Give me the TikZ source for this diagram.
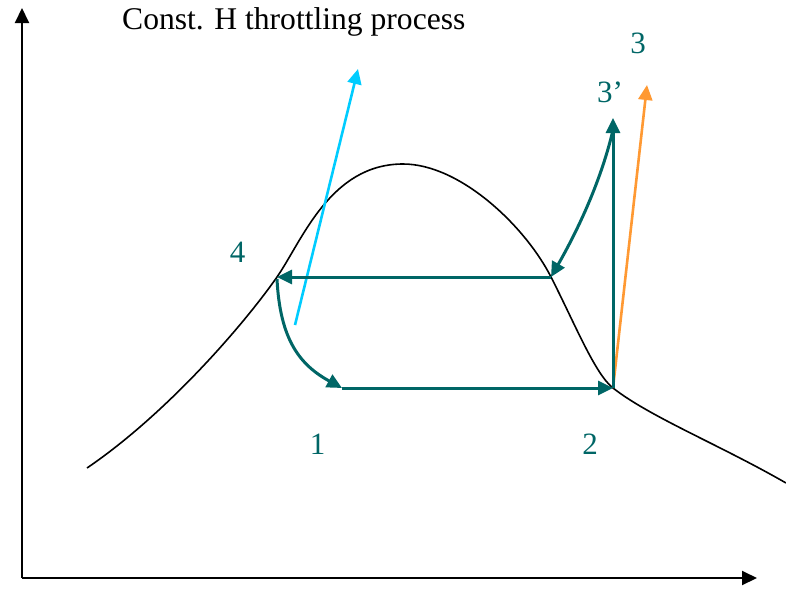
\documentclass[tikz,border=0pt]{standalone}
\usepackage{fontspec}
\setmainfont{Liberation Serif}
\usetikzlibrary{arrows.meta}
\definecolor{cycleteal}{RGB}{0,102,102}
\definecolor{isocyan}{RGB}{0,204,255}
\definecolor{isoorange}{RGB}{255,153,51}

\begin{document}
\begin{tikzpicture}[x=1pt, y=-1pt,
  axis/.style={draw, line width=2pt, -{Triangle[length=15pt, width=14pt]}},
  cycleline/.style={draw=cycleteal, line width=3pt, -{Triangle[length=15pt, width=14pt]}},
  isoline/.style={line width=2.6pt, -{Triangle[length=15pt, width=14pt]}},
  dome/.style={draw, line width=1.6pt},
  statelabel/.style={text=cycleteal, inner sep=0pt, font=\fontsize{31}{36}\selectfont},
  titlelabel/.style={inner sep=0pt, font=\fontsize{31.6}{36}\selectfont}
]
  \useasboundingbox (0,0) rectangle (786,589);

  % axes
  \coordinate (origin) at (22,578);
  \coordinate (ytip) at (22,8);
  \coordinate (xtip) at (757,578);
  \draw[axis] (origin) -- (ytip);
  \draw[axis] (origin) -- (xtip);

  \node[titlelabel, anchor=base west] (title) at (122,29) {Const. H throttling process};

  % state points
  \coordinate (s1) at (342,388);
  \coordinate (s2) at (613,388);
  \coordinate (s3p) at (613,118);
  \coordinate (s3) at (647,85);
  \coordinate (s4) at (277,277);
  \coordinate (sat) at (551,277);
  \coordinate (cyanfoot) at (295,325);
  \coordinate (cyantip) at (358,69);

  % saturation dome
  \coordinate (domeL) at (87,468);
  \coordinate (domeTop) at (403,164);
  \coordinate (domeR) at (786,483);
  \draw[dome] (domeL) .. controls (165,415) and (242,327) .. (s4)
    .. controls (302,241) and (330,164) .. (domeTop)
    .. controls (460,164) and (525,226) .. (sat)
    .. controls (575,324) and (595,374) .. (s2)
    .. controls (650,417) and (720,445) .. (domeR);

  % lines of constant property
  \draw[isoline, isocyan] (cyanfoot) -- (cyantip);
  \draw[isoline, isoorange] (s2) -- (s3);

  % cycle
  \draw[cycleline] (s1) -- (s2);
  \draw[cycleline] (s2) -- (s3p);
  \draw[cycleline] ([yshift=-12pt]s3p) .. controls (600,185) and (575,235) .. (sat);
  \draw[cycleline] (sat) -- (s4);
  \draw[cycleline] ([yshift=-2pt]s4) .. controls (280,340) and (300,365) .. (s1);

  % labels
  \node[statelabel, anchor=base] (lab4) at (237.5,262) {4};
  \node[statelabel, anchor=base] (lab1) at (317.5,454) {1};
  \node[statelabel, anchor=base] (lab2) at (590,454) {2};
  \node[statelabel, anchor=base] (lab3) at (638,53) {3};
  \node[statelabel, anchor=base west] (lab3p) at (597,102) {3’};
\end{tikzpicture}
\end{document}
